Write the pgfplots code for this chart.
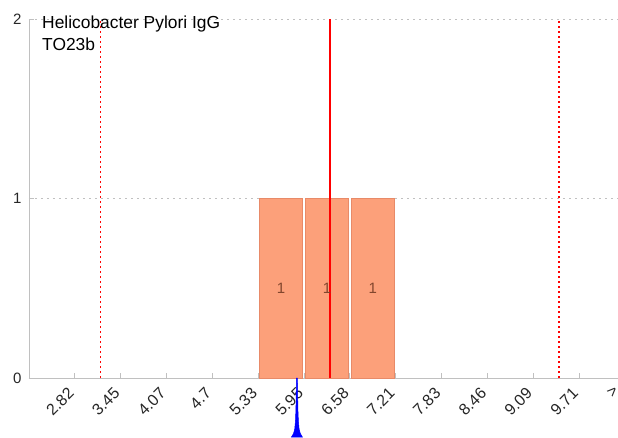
\documentclass[border=0pt]{standalone}
\usepackage{fontspec}
\setmainfont{Liberation Sans}
\usepackage{pgfplots}
\pgfplotsset{compat=1.18}
\definecolor{barfill}{RGB}{252,160,122}
\definecolor{bardraw}{RGB}{232,138,104}
\definecolor{axgray}{RGB}{192,192,192}
\definecolor{lbl}{RGB}{130,70,45}

\begin{document}
\begin{tikzpicture}
\begin{axis}[
  scale only axis, width=589pt, height=359pt,
  xmin=2.1937, xmax=10.2427,
  ymin=0, ymax=2,
  axis x line*=bottom, axis y line*=left,
  axis line style={axgray, line width=0.8pt},
  xtick={2.8201,3.4465,4.0729,4.6992,5.3256,5.9520,6.5784,7.2047,7.8311,8.4575,9.0839,9.7102},
  xticklabels={2.82,3.45,4.07,4.7,5.33,5.95,6.58,7.21,7.83,8.46,9.09,9.71},
  ytick={0,1,2},
  /pgf/number format/assume math mode=true,
  tick style={axgray, line width=0.8pt},
  tick align=inside, major tick length=5pt,
  ymajorgrids, grid style={axgray, dash pattern=on 2pt off 4pt, line width=0.8pt},
  xticklabel style={rotate=45, anchor=north east, inner sep=1pt, xshift=-10.5pt, yshift=0.6pt,
    font=\fontsize{16}{16}\selectfont, text=black!85},
  yticklabel style={xshift=-4pt, font=\fontsize{15}{15}\selectfont, text=black!85},
  clip=false,
]
% histogram bins
\addplot[ybar, bar width=0.588, fill=barfill, draw=bardraw, line width=0.8pt]
  coordinates {(5.6388,1) (6.2652,1) (6.8916,1)};
\addplot[draw=none, mark=none, nodes near coords, nodes near coords align={center},
  point meta=explicit symbolic,
  every node near coord/.append style={font=\fontsize{15}{15}\selectfont, text=lbl}]
  coordinates {(5.6388,0.5)[1] (6.2652,0.5)[1] (6.8916,0.5)[1]};
% mean and limits
\addplot[red, line width=1.2pt] coordinates {(6.306,0) (6.306,2)};
\addplot[red, line width=1.1pt, dash pattern=on 2pt off 3pt] coordinates {(3.175,0) (3.175,2)};
\addplot[red, line width=1.1pt, dash pattern=on 2pt off 3pt] coordinates {(9.437,0) (9.437,2)};
% sample marker
\addplot[fill=blue, draw=blue, line width=0.5pt] coordinates {
  (5.780,-0.329) (5.808,-0.31) (5.825,-0.285) (5.835,-0.24) (5.841,-0.18) (5.845,-0.1) (5.848,0)
  (5.862,0) (5.865,-0.1) (5.869,-0.18) (5.875,-0.24) (5.885,-0.285) (5.902,-0.31) (5.930,-0.329)} -- cycle;
\node[overlay, rotate=45, anchor=north east, inner sep=0pt, font=\fontsize{16}{16}\selectfont, text=black!85]
  at ([shift={(-5pt,-7pt)}]axis cs:10.24,0) {>};
\node[anchor=north west, inner sep=0pt, align=left, font=\fontsize{17.4}{22}\selectfont]
  at ([shift={(13pt,3pt)}]rel axis cs:0,1) {Helicobacter Pylori IgG\\TO23b};
\coordinate (bl) at (rel axis cs:0,0);
\coordinate (tr) at (rel axis cs:1,1);
\end{axis}
\pgfresetboundingbox
\path ([shift={(-29pt,-59pt)}]bl) rectangle ([shift={(0pt,19pt)}]tr);
\end{tikzpicture}
\end{document}
